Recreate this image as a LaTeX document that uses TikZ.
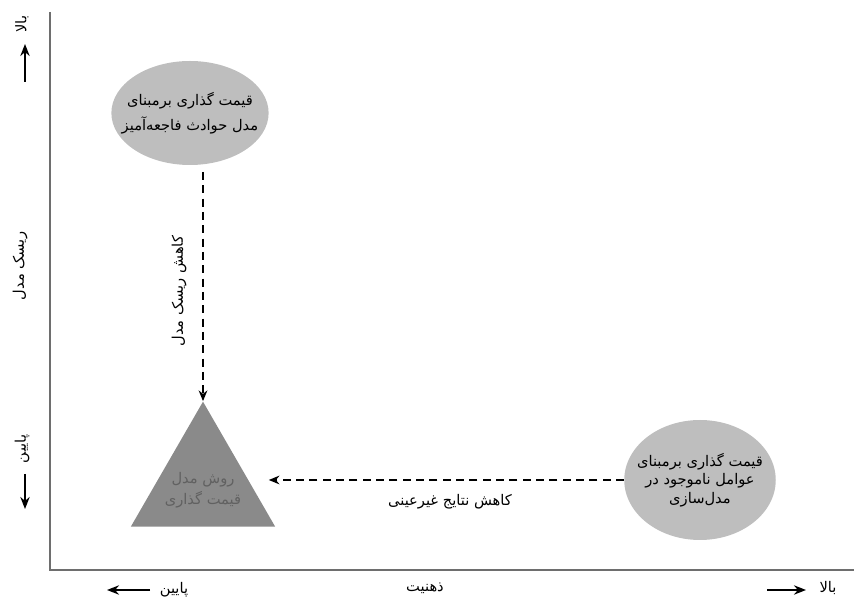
\documentclass[tikz,border=0pt]{standalone}
\usepackage{fontspec}
\newfontfamily\farsifont[Script=Arabic]{DejaVu Sans}
\TeXXeTstate=1
\newcommand{\fa}[1]{\beginR #1\endR}
\usetikzlibrary{shapes.geometric,arrows.meta}
\definecolor{bubblegray}{RGB}{190,190,190}
\definecolor{trigray}{RGB}{138,138,138}
\definecolor{axisgray}{RGB}{110,110,110}

\begin{document}
\begin{tikzpicture}[x=0.75pt, y=-0.75pt,
  bubble/.style={ellipse, fill=bubblegray, align=center, inner ysep=0pt, font=\farsifont\fontsize{11}{13}\selectfont},
  label/.style={font=\farsifont\fontsize{11}{13}\selectfont, inner sep=1pt},
  flow/.style={-{Stealth[length=8pt,width=6.5pt]}, line width=1.5pt, dash pattern=on 6pt off 4pt},
  pointer/.style={-{Stealth[length=9pt,width=7pt]}, line width=1.5pt},
  axis/.style={draw=axisgray, line width=1pt}]
  \useasboundingbox (0,0) rectangle (854,598);

  % axes
  \coordinate (origin) at (50,570);
  \coordinate (y_top) at (50,12);
  \coordinate (x_end) at (854,570);
  \draw[axis] (y_top) -- (origin) -- (x_end);

  % y axis labels
  \node[label, rotate=90] (y_high) at (22,24) {\fa{بالا}};
  \node[label, rotate=90] (y_name) at (20,266) {\fa{ریسک مدل}};
  \node[label, rotate=90] (y_low) at (22,449) {\fa{پایین}};
  \coordinate (y_up_tail) at (25,82);
  \coordinate (y_up_tip) at (25,44);
  \coordinate (y_down_tail) at (25,474);
  \coordinate (y_down_tip) at (25,509);
  \draw[pointer] (y_up_tail) -- (y_up_tip);
  \draw[pointer] (y_down_tail) -- (y_down_tip);

  % x axis labels
  \node[label] (x_low) at (174,590) {\fa{پایین}};
  \node[label] (x_name) at (425,588) {\fa{ذهنیت}};
  \node[label] (x_high) at (828,588) {\fa{بالا}};
  \coordinate (x_left_tail) at (150,590);
  \coordinate (x_left_tip) at (107,590);
  \coordinate (x_right_tail) at (767,590);
  \coordinate (x_right_tip) at (806,590);
  \draw[pointer] (x_left_tail) -- (x_left_tip);
  \draw[pointer] (x_right_tail) -- (x_right_tip);

  % pricing approaches
  \node[bubble, inner xsep=-9.5pt, minimum width=117pt, minimum height=78pt] (top) at (190,113)
    {\fa{قیمت گذاری برمبنای}\\[5pt]\fa{مدل حوادث فاجعه‌آمیز}};
  \node[bubble, inner xsep=-7pt, minimum width=112pt, minimum height=90pt] (right) at (700,480)
    {\fa{قیمت گذاری برمبنای}\\[1pt]\fa{عوامل ناموجود در}\\[1pt]\fa{مدل‌سازی}};
  \node[regular polygon, regular polygon sides=3, minimum size=125pt, inner sep=0pt,
    fill=trigray] (tri) at (203,485) {};
  \node[label, align=center, text=black!62] (tri_label) at (203,490)
    {\fa{روش مدل}\\[3pt]\fa{قیمت گذاری}};

  \draw[flow, shorten <=5pt] (tri.north |- top.south) -- (tri.north);
  \node[label, rotate=90] (risk_cut) at (179,291) {\fa{کاهش ریسک مدل}};

  \draw[flow, shorten >=13pt] (right.west) -- (tri.east |- right.west);
  \node[label] (bias_cut) at (450,502) {\fa{کاهش نتایج غیرعینی}};
\end{tikzpicture}
\end{document}
